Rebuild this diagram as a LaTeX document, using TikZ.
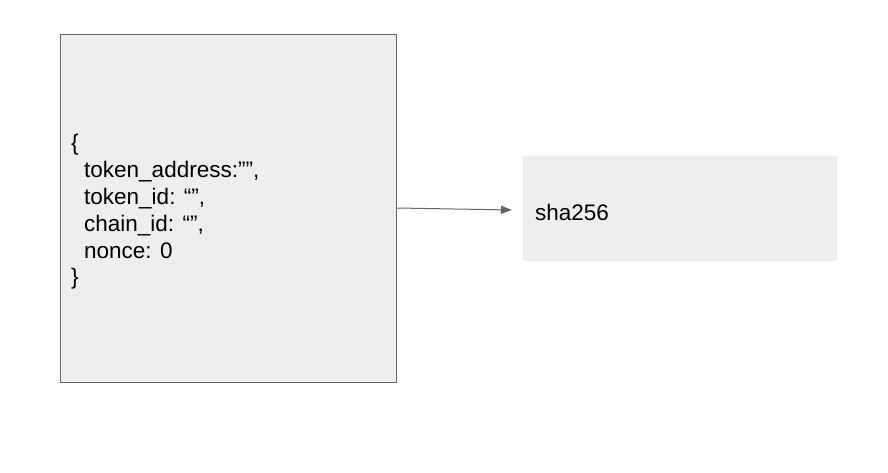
\documentclass[tikz,border=0pt]{standalone}
\usepackage{fontspec}
\setmainfont{Liberation Sans}
\usetikzlibrary{arrows.meta}
\definecolor{boxfill}{HTML}{EEEEEE}
\definecolor{boxline}{HTML}{666666}
\definecolor{arrowcol}{HTML}{666666}
\begin{document}
\begin{tikzpicture}[x=1pt,y=-1pt,
  txt/.style={font=\fontsize{22.5pt}{26.8pt}\selectfont, inner sep=0pt, align=left, text=black}]
\useasboundingbox (0,0) rectangle (888,473);
\fill[white] (0,0) rectangle (888,473);
\node[draw=boxline, fill=boxfill, line width=1pt, minimum width=336pt, minimum height=348pt, inner sep=0pt, anchor=north west] (json) at (60,34) {};
\node[fill=boxfill, minimum width=314pt, minimum height=105pt, inner sep=0pt, anchor=north west] (hash) at (523,156) {};
\node[txt, anchor=west] (jsontext) at (71,212) {\{\\\hspace*{13pt}token\_address:””,\\\hspace*{13pt}token\_id: “”,\\\hspace*{13pt}chain\_id: “”,\\\hspace*{13pt}nonce: 0\\\}};
\node[txt, anchor=west] (hashtext) at (535,212) {sha256};
\coordinate (tip) at (512,210);
\draw[arrowcol, line width=1pt, -{Triangle[length=11pt,width=8pt]}] (json.east |- 0,208) -- (tip);
\end{tikzpicture}
\end{document}
